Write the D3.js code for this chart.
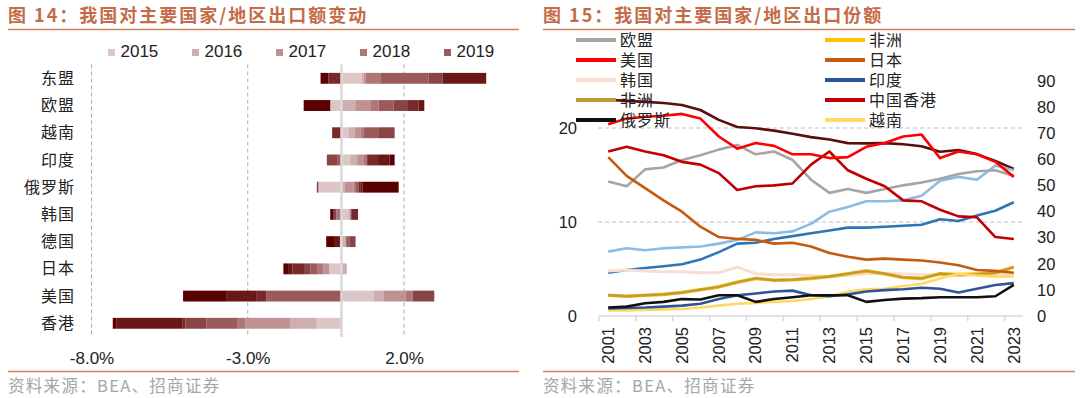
<!DOCTYPE html>
<html lang="zh">
<head>
<meta charset="utf-8">
<title>我国对主要国家/地区出口额变动与出口份额</title>
<script src="https://d3js.org/d3.v7.min.js"></script>
<style>
  body { margin: 0; background: #ffffff; }
  svg text { font-family: "Liberation Sans", Arial, sans-serif; fill: #222222; }
  svg text.cjk { font-family: "Noto Sans CJK SC", sans-serif; }
</style>
</head>
<body>
<div id="chart"></div>
<script>

// ---------- left chart: yearly change of export share (pp) ----------
var barCategories = ["东盟", "欧盟", "越南", "印度", "俄罗斯", "韩国", "德国", "日本", "美国", "香港"];
var barYears = ["2015", "2016", "2017", "2018", "2019", "2020", "2021", "2022", "2023"];
var legendYears = ["2015", "2016", "2017", "2018", "2019"];
var barTicks = [-8, -3, 2];

// one array per year, same order as barCategories
var chg2015 = [0.65, -0.36, 0.22, 0.28, -0.74, 0.22, -0.05, -0.39, 1.04, -0.79];
var chg2016 = [0.06, 0.44, 0.20, 0.22, 0.11, 0.03, 0.10, 0.17, 0.32, -0.86];
var chg2017 = [0.07, 0.48, 0.20, 0.22, 0.28, 0.06, 0.03, -0.19, 0.70, -1.42];
var chg2018 = [0.46, 0.27, 0.08, 0.10, 0.05, -0.17, 0.02, -0.20, 0.22, -0.25];
var chg2019 = [1.55, 0.48, 0.50, -0.12, 0.12, 0.00, 0.10, -0.22, -2.40, -1.00];
var chg2020 = [0.45, 0.43, 0.50, -0.35, -0.05, -0.08, 0.20, -0.20, 0.69, -0.67];
var chg2021 = [-0.42, 0.37, -0.30, 0.35, 0.06, 0.22, 0.00, -0.37, -0.31, -0.09];
var chg2022 = [1.39, 0.18, 0.00, 0.37, 0.05, 0.00, -0.19, -0.14, -0.96, -2.13];
var chg2023 = [-0.25, -0.85, 0.00, 0.16, 1.16, -0.11, -0.25, -0.15, -1.40, -0.11];

// ---------- right chart: export share (%) ----------
var shareYears = ["2001", "2002", "2003", "2004", "2005", "2006", "2007", "2008", "2009", "2010", "2011", "2012",
                  "2013", "2014", "2015", "2016", "2017", "2018", "2019", "2020", "2021", "2022", "2023"];
var yearTicks = ["2001", "2003", "2005", "2007", "2009", "2011", "2013", "2015", "2017", "2019", "2021", "2023"];
var leftTicks = [0, 10, 20];
var rightTicks = [0, 10, 20, 30, 40, 50, 60, 70, 80, 90];

var shareEU = [14.3, 13.8, 15.6, 15.8, 16.6, 17.1, 17.7, 18.2, 17.2, 17.5, 16.6, 14.5, 13.1, 13.5, 13.1, 13.5, 13.9, 14.2, 14.6, 15.1, 15.4, 15.5, 14.9];
var shareUS = [20.4, 21.0, 21.2, 21.3, 21.5, 21.0, 19.1, 17.8, 18.4, 18.1, 17.2, 17.2, 16.8, 16.9, 18.0, 18.4, 19.1, 19.3, 16.8, 17.5, 17.2, 16.4, 14.8];
var shareKorea = [4.8, 4.9, 4.8, 4.7, 4.7, 4.6, 4.6, 5.2, 4.5, 4.4, 4.4, 4.3, 4.2, 4.3, 4.5, 4.5, 4.5, 4.4, 4.4, 4.3, 4.5, 4.5, 4.4];
var shareAfrica = [2.2, 2.1, 2.2, 2.3, 2.5, 2.8, 3.1, 3.6, 4.0, 3.8, 3.85, 4.0, 4.2, 4.5, 4.8, 4.5, 4.1, 4.0, 4.5, 4.4, 4.45, 4.6, 5.2];
var shareRussia = [0.9, 1.0, 1.35, 1.5, 1.8, 1.75, 2.2, 2.2, 1.5, 1.8, 2.0, 2.2, 2.2, 2.2, 1.5, 1.7, 1.85, 1.9, 2.0, 2.0, 2.0, 2.1, 3.3];
var shareJapan = [16.9, 14.9, 13.6, 12.3, 11.1, 9.5, 8.4, 8.2, 8.1, 7.7, 7.8, 7.4, 6.7, 6.3, 6.0, 6.1, 6.0, 5.9, 5.7, 5.4, 4.9, 4.8, 4.6];
var shareIndia = [0.8, 0.85, 0.9, 1.0, 1.1, 1.3, 1.8, 2.2, 2.4, 2.6, 2.7, 2.2, 2.1, 2.3, 2.6, 2.75, 2.85, 3.0, 2.9, 2.5, 2.9, 3.3, 3.5];
var shareHK = [17.5, 18.0, 17.5, 17.1, 16.4, 16.1, 15.2, 13.4, 13.8, 13.9, 14.1, 16.1, 17.5, 15.5, 14.6, 13.8, 12.3, 12.2, 11.3, 10.6, 10.5, 8.4, 8.2];
var shareVietnam = [0.6, 0.6, 0.65, 0.7, 0.75, 0.9, 1.1, 1.3, 1.4, 1.5, 1.6, 1.8, 2.1, 2.6, 2.85, 2.9, 3.2, 3.4, 4.0, 4.5, 4.3, 4.2, 4.2];
// the three lines that the legend does not list
var shareLightBlue = [6.85, 7.2, 7.0, 7.2, 7.3, 7.4, 7.7, 8.1, 8.9, 8.8, 9.0, 9.8, 11.1, 11.6, 12.2, 12.2, 12.3, 12.8, 14.4, 14.8, 14.5, 16.0, 15.5];
var shareMidBlue = [4.6, 4.9, 5.1, 5.3, 5.5, 6.0, 6.8, 7.7, 7.8, 8.2, 8.5, 8.8, 9.1, 9.4, 9.4, 9.5, 9.6, 9.7, 10.3, 10.1, 10.7, 11.2, 12.1];
var shareMaroon = [82.8, 82.4, 82.0, 81.6, 80.8, 78.9, 75.1, 72.4, 71.9, 71.0, 69.8, 68.5, 67.6, 66.2, 66.1, 66.2, 65.8, 65.0, 62.9, 63.6, 62.0, 59.4, 56.3];

// ---------------------------------------------------------------------
var svg = d3.select("#chart")
  .append("svg")
    .attr("width", 1080)
    .attr("height", 398)
    .attr("style", "background-color:white");

var accent = "#C46C49";

// titles, rules and source lines of both panels
function panelFrame(x0, x1, title) {
  svg.append("text")
    .attr("class", "cjk")
    .attr("x", x0)
    .attr("y", 22)
    .style("font-size", "18px")
    .style("font-weight", "bold")
    .style("letter-spacing", "2px")
    .style("fill", accent)
    .text(title);
  svg.append("line")
    .attr("x1", x0).attr("x2", x1)
    .attr("y1", 29.5).attr("y2", 29.5)
    .attr("stroke", "#D0825F")
    .attr("stroke-width", 1.6);
  svg.append("line")
    .attr("x1", x0).attr("x2", x1)
    .attr("y1", 371.5).attr("y2", 371.5)
    .attr("stroke", "#D0825F")
    .attr("stroke-width", 1.6);
  svg.append("text")
    .attr("class", "cjk")
    .attr("x", x0)
    .attr("y", 392)
    .style("font-size", "16.5px")
    .style("letter-spacing", "1.3px")
    .style("fill", "#A6A6A6")
    .text("资料来源：BEA、招商证券");
}
panelFrame(8, 519, "图 14：我国对主要国家/地区出口额变动");
panelFrame(543, 1075, "图 15：我国对主要国家/地区出口份额");

// ======================= left: diverging stacked bars =======================
var barColor = d3.scaleOrdinal()
  .domain(barYears)
  .range(["#DCC6C7", "#CFAEAF", "#C09193", "#AE7677", "#9B5B5C", "#894445", "#782A2B", "#6A1718", "#590000"]);

var barX = d3.scaleLinear()
  .domain([-8, 2])
  .range([91.5, 404]);

var barY = d3.scaleBand()
  .domain(barCategories)
  .range([64.7, 336.9])
  .paddingInner(0.6)
  .paddingOuter(0.3);

var barChg = [chg2015, chg2016, chg2017, chg2018, chg2019, chg2020, chg2021, chg2022, chg2023];
var barRows = barCategories.map(function(c, i) {
  var r = {cat: c};
  barYears.forEach(function(y, j) { r[y] = barChg[j][i]; });
  return r;
});

var stacked = d3.stack()
  .keys(barYears)
  .offset(d3.stackOffsetDiverging)(barRows);

// dashed reference lines
svg.append("g")
  .selectAll("line")
  .data(barTicks)
  .enter()
  .append("line")
    .attr("x1", function(d) { return barX(d); })
    .attr("x2", function(d) { return barX(d); })
    .attr("y1", 64.5)
    .attr("y2", 336)
    .attr("stroke", "#ABABAB")
    .attr("stroke-width", 1)
    .attr("stroke-dasharray", "4,3");

svg.append("g")
  .selectAll("g")
  .data(stacked)
  .enter()
  .append("g")
    .attr("fill", function(d) { return barColor(d.key); })
  .selectAll("rect")
  .data(function(d) { return d; })
  .enter()
  .append("rect")
    .attr("x", function(d) { return barX(Math.min(d[0], d[1])); })
    .attr("width", function(d) { return Math.abs(barX(d[1]) - barX(d[0])); })
    .attr("y", function(d) { return barY(d.data.cat); })
    .attr("height", barY.bandwidth());

// zero line
svg.append("line")
  .attr("x1", barX(0)).attr("x2", barX(0))
  .attr("y1", 64.5).attr("y2", 337)
  .attr("stroke", "#D9D9D9")
  .attr("stroke-width", 2.5);

// category labels
svg.append("g")
  .selectAll("text")
  .data(barCategories)
  .enter()
  .append("text")
    .attr("class", "cjk")
    .attr("x", 75)
    .attr("y", function(d) { return barY(d) + barY.bandwidth() / 2; })
    .attr("dy", "0.35em")
    .attr("text-anchor", "end")
    .style("font-size", "16px")
    .style("letter-spacing", "1px")
    .text(function(d) { return d; });

// x axis labels
var barAxis = svg.append("g")
  .attr("transform", "translate(0,352)")
  .call(d3.axisBottom(barX)
    .tickValues(barTicks)
    .tickSize(0)
    .tickPadding(0)
    .tickFormat(function(d) { return d.toFixed(1) + "%"; }));
barAxis.select(".domain").remove();
barAxis.selectAll("text")
  .attr("dy", "0.71em")
  .style("font-size", "17px")
  .style("font-family", "Liberation Sans, Arial, sans-serif")
  .style("fill", "#222222");

// legend (first five years only, as in the source)
var barLegend = svg.append("g")
  .selectAll("g")
  .data(legendYears)
  .enter()
  .append("g")
    .attr("transform", function(d, i) { return "translate(" + (108 + i * 84) + ",0)"; });
barLegend.append("rect")
  .attr("x", 0).attr("y", 49)
  .attr("width", 7).attr("height", 7)
  .attr("fill", function(d) { return barColor(d); });
barLegend.append("text")
  .attr("x", 12.5)
  .attr("y", 56.5)
  .style("font-size", "17px")
  .text(function(d) { return d; });

// ======================= right: share lines =======================
var lineX = d3.scaleBand()
  .domain(shareYears)
  .range([599, 1023]);
var yLeft = d3.scaleLinear().domain([0, 25]).range([316, 81]);
var yRight = d3.scaleLinear().domain([0, 90]).range([316, 81]);

// dashed grid at 10 and 20
svg.append("g")
  .selectAll("line")
  .data([10, 20])
  .enter()
  .append("line")
    .attr("x1", 598).attr("x2", 1023)
    .attr("y1", function(d) { return yLeft(d); })
    .attr("y2", function(d) { return yLeft(d); })
    .attr("stroke", "#BFBFBF")
    .attr("stroke-dasharray", "4,3");

// x axis line and ticks
svg.append("line")
  .attr("x1", 599).attr("x2", 1023)
  .attr("y1", 316).attr("y2", 316)
  .attr("stroke", "#D9D9D9")
  .attr("stroke-width", 1.5);
svg.append("g")
  .selectAll("line")
  .data(yearTicks)
  .enter()
  .append("line")
    .attr("x1", function(d) { return lineX(d); })
    .attr("x2", function(d) { return lineX(d); })
    .attr("y1", 316).attr("y2", 321)
    .attr("stroke", "#D9D9D9")
    .attr("stroke-width", 1.5);
svg.append("g")
  .selectAll("text")
  .data(yearTicks)
  .enter()
  .append("text")
    .attr("transform", function(d) {
      return "translate(" + (lineX(d) + lineX.bandwidth() / 2) + ",327) rotate(-90)";
    })
    .attr("dy", "0.35em")
    .attr("text-anchor", "end")
    .style("font-size", "16.5px")
    .text(function(d) { return d; });

// y axes (labels only)
var axL = svg.append("g")
  .attr("transform", "translate(577,0)")
  .call(d3.axisLeft(yLeft).tickValues(leftTicks).tickSize(0).tickPadding(0));
var axR = svg.append("g")
  .attr("transform", "translate(1037,0)")
  .call(d3.axisRight(yRight).tickValues(rightTicks).tickSize(0).tickPadding(0));
[axL, axR].forEach(function(ax) {
  ax.select(".domain").remove();
  ax.selectAll("text")
    .style("font-size", "16.5px")
    .style("font-family", "Liberation Sans, Arial, sans-serif")
    .style("fill", "#222222");
});

var lineLeft = d3.line()
  .x(function(d, i) { return lineX(shareYears[i]) + lineX.bandwidth() / 2; })
  .y(function(d) { return yLeft(d); });
var lineRight = d3.line()
  .x(function(d, i) { return lineX(shareYears[i]) + lineX.bandwidth() / 2; })
  .y(function(d) { return yRight(d); });

// drawing order, bottom first
var shareSeries = [
  {values: shareMaroon, color: "#5A0F0F", right: true, w: 2.6},
  {values: shareLightBlue, color: "#8DBBE6", w: 2.6},
  {values: shareMidBlue, color: "#2E75B6", w: 2.6},
  {values: shareEU, color: "#A5A5A5", w: 2.6},
  {values: shareKorea, color: "#F8DED2", w: 3},
  {values: shareAfrica, color: "#FFC000", w: 3.6},
  {values: shareAfrica, color: "#BF9B3A", w: 2.4},
  {values: shareVietnam, color: "#FFD966", w: 2.6},
  {values: shareJapan, color: "#C55A11", w: 2.6},
  {values: shareIndia, color: "#2F5597", w: 2.6},
  {values: shareRussia, color: "#111111", w: 2.6},
  {values: shareHK, color: "#C00000", w: 2.6},
  {values: shareUS, color: "#FF0000", w: 2.6}
];

svg.append("g")
  .selectAll("path")
  .data(shareSeries)
  .enter()
  .append("path")
    .attr("d", function(d) { return d.right ? lineRight(d.values) : lineLeft(d.values); })
    .attr("fill", "none")
    .attr("stroke", function(d) { return d.color; })
    .attr("stroke-width", function(d) { return d.w; })
    .attr("stroke-linejoin", "round");

// legend, two columns
var legendNames = ["欧盟", "美国", "韩国", "非洲", "俄罗斯", "非洲", "日本", "印度", "中国香港", "越南"];
var legendColors = ["#A5A5A5", "#FF0000", "#F8DED2", "#BF9B3A", "#111111", "#FFC000", "#C55A11", "#2F5597", "#C00000", "#FFD966"];

var lineLegend = svg.append("g")
  .selectAll("g")
  .data(legendNames)
  .enter()
  .append("g")
    .attr("transform", function(d, i) {
      var col = Math.floor(i / 5), row = i % 5;
      return "translate(" + (col === 0 ? 576 : 825) + "," + (40 + row * 20) + ")";
    });
lineLegend.append("line")
  .attr("x1", 0).attr("x2", 40)
  .attr("y1", 0).attr("y2", 0)
  .attr("stroke", function(d, i) { return legendColors[i]; })
  .attr("stroke-width", 4);
lineLegend.append("text")
  .attr("class", "cjk")
  .attr("x", 44)
  .attr("dy", "0.35em")
  .style("font-size", "16px")
  .style("letter-spacing", "1px")
  .text(function(d) { return d; });

</script>
</body>
</html>
